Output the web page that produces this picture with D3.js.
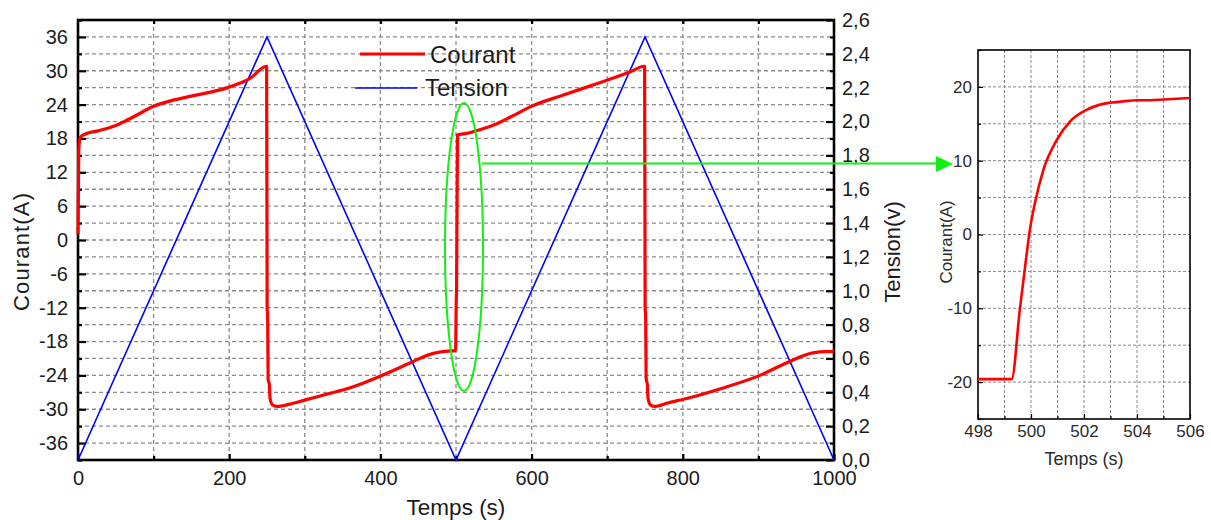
<!DOCTYPE html>
<html>
<head>
<meta charset="utf-8">
<script src="https://cdn.jsdelivr.net/npm/d3@7"></script>
<style>
  html, body { margin: 0; padding: 0; background: #fff; }
  svg { display: block; font-family: "Liberation Sans", Arial, sans-serif; }
</style>
</head>
<body>
<svg id="chart" width="1211" height="520"></svg>
<script>
// ---------- data ----------
const courantTime = [0, 1, 3, 10, 25, 50, 73, 100, 126, 150, 200, 227, 249.5,
  250.2, 250.8, 251.5, 253, 254, 257, 263, 280, 302, 330, 360, 404, 439, 470, 490, 499.5,
  500.2, 500.8, 502, 514, 530, 554, 575, 598, 642, 686, 730, 749.5,
  750.2, 750.8, 751.5, 753, 754, 757, 762, 780, 805, 849, 902, 937, 972, 990, 1000];
const courantValues = [1, 16, 18.2, 18.8, 19.3, 20.3, 21.8, 23.7, 24.8, 25.5, 27.1, 28.6, 30.8,
  -12.5, -12.8, -24.8, -25.5, -28, -29.2, -29.5, -29.1, -28.3, -27.3, -26.2, -23.9, -21.8, -20.1, -19.7, -19.6,
  -12, -8, 18.6, 18.9, 19.5, 20.6, 22, 23.6, 25.7, 27.7, 29.8, 30.8,
  -12.5, -12.8, -24.6, -25.5, -28, -29.2, -29.5, -28.9, -28.1, -26.4, -24, -21.8, -20, -19.8, -19.8];

const tensionTime = [0, 250, 500, 750, 1000];
const tensionValues = [0, 2.5, 0, 2.5, 0];

const courantTicks = [-36, -30, -24, -18, -12, -6, 0, 6, 12, 18, 24, 30, 36];
const courantMinorTicks = [-39, -33, -27, -21, -15, -9, -3, 3, 9, 15, 21, 27, 33, 39];
const tensionTicks = [0, 0.2, 0.4, 0.6, 0.8, 1.0, 1.2, 1.4, 1.6, 1.8, 2.0, 2.2, 2.4, 2.6];
const tensionMinorTicks = [0.1, 0.3, 0.5, 0.7, 0.9, 1.1, 1.3, 1.5, 1.7, 1.9, 2.1, 2.3, 2.5];
const tempsTicks = [0, 200, 400, 600, 800, 1000];
const tempsMinorTicks = [100, 300, 500, 700, 900];

const insetTime = [498, 499.27, 499.58, 499.81, 499.96, 500.15, 500.47, 500.97, 501.47, 502.1, 502.73, 503.4, 504, 504.5, 505, 506];
const insetCourant = [-19.6, -19.6, -10.1, -3.4, 0.7, 4.3, 8.8, 12.8, 15.3, 16.9, 17.7, 18.0, 18.2, 18.2, 18.3, 18.5];
const insetTimeTicks = [498, 500, 502, 504, 506];
const insetTimeMinor = [499, 501, 503, 505];
const insetCourantTicks = [-20, -10, 0, 10, 20];
const insetCourantMinor = [-25, -15, -5, 5, 15, 25];

const legendLabels = ["Courant", "Tension"];

// ---------- main chart ----------
const svg = d3.select("#chart");
const L = 78, R = 834, T = 20, B = 460;
const x = d3.scaleLinear().domain([0, 1000]).range([L, R]);
const yL = d3.scaleLinear().domain([-39, 39]).range([B, T]);
const yR = d3.scaleLinear().domain([0, 2.6]).range([B, T]);

const gridColor = "#8c8c8c";
const textColor = "#1c1c1c";
const fmtInt = d => String(d);

// grid
const grid = svg.append("g");
grid.selectAll("line.h").data(d3.range(1, 26).map(i => i / 10)).join("line")
  .attr("x1", L).attr("x2", R)
  .attr("y1", d => yR(d)).attr("y2", d => yR(d))
  .attr("stroke", gridColor).attr("stroke-width", 1.3).attr("stroke-dasharray", "4,3");
grid.selectAll("line.v").data(d3.range(100, 1000, 100)).join("line")
  .attr("x1", d => x(d)).attr("x2", d => x(d))
  .attr("y1", T).attr("y2", B)
  .attr("stroke", gridColor).attr("stroke-width", 1.3).attr("stroke-dasharray", "4,3");

function styleAxis(g, size) {
  g.select(".domain").remove();
  g.selectAll(".tick line").attr("stroke", "#000").attr("stroke-width", 2.2);
  g.selectAll("text").attr("fill", textColor).style("font-size", size + "px");
}

// left axis
svg.append("g").attr("transform", `translate(${L},0)`)
  .call(d3.axisLeft(yL).tickValues(courantTicks).tickSize(-8).tickPadding(10).tickFormat(fmtInt))
  .call(g => styleAxis(g, 20));
svg.append("g").attr("transform", `translate(${L},0)`)
  .call(d3.axisLeft(yL).tickValues(courantMinorTicks).tickSize(-4).tickFormat(""))
  .call(g => styleAxis(g, 20));

// right axis
const fmtR = d => d3.format(".1f")(d).replace(".", ",");
svg.append("g").attr("transform", `translate(${R},0)`)
  .call(d3.axisRight(yR).tickValues(tensionTicks).tickSize(-8).tickPadding(8).tickFormat(fmtR))
  .call(g => styleAxis(g, 20));
svg.append("g").attr("transform", `translate(${R},0)`)
  .call(d3.axisRight(yR).tickValues(tensionMinorTicks).tickSize(-4).tickFormat(""))
  .call(g => styleAxis(g, 20));

// bottom axis
svg.append("g").attr("transform", `translate(0,${B})`)
  .call(d3.axisBottom(x).tickValues(tempsTicks).tickSize(-6).tickPadding(11).tickFormat(fmtInt))
  .call(g => styleAxis(g, 20));
svg.append("g").attr("transform", `translate(0,${B})`)
  .call(d3.axisBottom(x).tickValues(tempsMinorTicks).tickSize(-4).tickFormat(""))
  .call(g => styleAxis(g, 20));

// top minor ticks
svg.append("g").attr("transform", `translate(0,${T})`)
  .call(d3.axisTop(x).tickValues(d3.range(100, 1000, 100)).tickSize(-4).tickFormat(""))
  .call(g => styleAxis(g, 20));

// frame
svg.append("rect").attr("x", L).attr("y", T).attr("width", R - L).attr("height", B - T)
  .attr("fill", "none").attr("stroke", "#000").attr("stroke-width", 2.6);

// lines
const tensionLine = d3.line().x((d, i) => x(tensionTime[i])).y(d => yR(d));
svg.append("path").datum(tensionValues).attr("d", tensionLine)
  .attr("fill", "none").attr("stroke", "#0000ff").attr("stroke-width", 1.6);

const courantLine = d3.line().x((d, i) => x(courantTime[i])).y(d => yL(d)).curve(d3.curveMonotoneX);
svg.append("path").datum(courantValues).attr("d", courantLine)
  .attr("fill", "none").attr("stroke", "#ff0000").attr("stroke-width", 3.2)
  .attr("stroke-linejoin", "round");

// axis titles
svg.append("text").attr("transform", "translate(29,252) rotate(-90)")
  .attr("text-anchor", "middle").attr("fill", textColor).style("font-size", "22px")
  .attr("textLength", 118).attr("lengthAdjust", "spacing").text("Courant(A)");
svg.append("text").attr("transform", "translate(900,252) rotate(-90)")
  .attr("text-anchor", "middle").attr("fill", textColor).style("font-size", "22px").text("Tension(v)");
svg.append("text").attr("x", 456).attr("y", 515)
  .attr("text-anchor", "middle").attr("fill", textColor).style("font-size", "22.5px").text("Temps (s)");

// legend
const leg = svg.append("g");
leg.append("line").attr("x1", 360).attr("x2", 425).attr("y1", 54).attr("y2", 54)
  .attr("stroke", "#ff0000").attr("stroke-width", 3.2);
leg.append("text").attr("x", 430).attr("y", 63).attr("fill", textColor).style("font-size", "24px").text(legendLabels[0]);
leg.append("line").attr("x1", 355).attr("x2", 417).attr("y1", 88).attr("y2", 88)
  .attr("stroke", "#0000ff").attr("stroke-width", 1.6);
leg.append("text").attr("x", 425).attr("y", 96).attr("fill", textColor).style("font-size", "24px").text(legendLabels[1]);

// green annotation
const green = "#11f011";
svg.append("ellipse").attr("cx", 464).attr("cy", 247).attr("rx", 19).attr("ry", 144)
  .attr("fill", "none").attr("stroke", green).attr("stroke-width", 2);
svg.append("line").attr("x1", 482).attr("x2", 940).attr("y1", 163.5).attr("y2", 163.5)
  .attr("stroke", green).attr("stroke-width", 2);
svg.append("path").attr("d", "M953,164 L936,156 L936,172 Z").attr("fill", green);

// ---------- inset ----------
const iL = 978, iR = 1190, iT = 50, iB = 419;
const xi = d3.scaleLinear().domain([498, 506]).range([iL, iR]);
const yi = d3.scaleLinear().domain([-25, 25]).range([iB, iT]);
const inset = svg.append("g");
const iGrid = "#8a8a8a";
inset.selectAll("line.ih").data(d3.range(-20, 25, 5)).join("line")
  .attr("x1", iL).attr("x2", iR).attr("y1", d => yi(d)).attr("y2", d => yi(d))
  .attr("stroke", iGrid).attr("stroke-width", 1).attr("stroke-dasharray", "3,2");
inset.selectAll("line.iv").data(d3.range(499, 506, 1)).join("line")
  .attr("x1", d => xi(d)).attr("x2", d => xi(d)).attr("y1", iT).attr("y2", iB)
  .attr("stroke", iGrid).attr("stroke-width", 1).attr("stroke-dasharray", "3,2");

function styleInset(g) {
  g.select(".domain").remove();
  g.selectAll(".tick line").attr("stroke", "#000").attr("stroke-width", 1.2);
  g.selectAll("text").attr("fill", "#2a2a2a").style("font-size", "17px");
}
inset.append("g").attr("transform", `translate(${iL},0)`)
  .call(d3.axisLeft(yi).tickValues(insetCourantTicks).tickSize(-5).tickPadding(6).tickFormat(fmtInt))
  .call(styleInset);
inset.append("g").attr("transform", `translate(${iL},0)`)
  .call(d3.axisLeft(yi).tickValues(insetCourantMinor).tickSize(-3).tickFormat(""))
  .call(styleInset);
inset.append("g").attr("transform", `translate(0,${iB})`)
  .call(d3.axisBottom(xi).tickValues(insetTimeTicks).tickSize(-5).tickPadding(6).tickFormat(fmtInt))
  .call(styleInset);
inset.append("g").attr("transform", `translate(0,${iB})`)
  .call(d3.axisBottom(xi).tickValues(insetTimeMinor).tickSize(-3).tickFormat(""))
  .call(styleInset);

inset.append("rect").attr("x", iL).attr("y", iT).attr("width", iR - iL).attr("height", iB - iT)
  .attr("fill", "none").attr("stroke", "#000").attr("stroke-width", 1.6);

const insetLine = d3.line().x((d, i) => xi(insetTime[i])).y(d => yi(d)).curve(d3.curveMonotoneX);
inset.append("path").datum(insetCourant).attr("d", insetLine)
  .attr("fill", "none").attr("stroke", "#ff0000").attr("stroke-width", 2.6);

inset.append("text").attr("transform", "translate(952,242) rotate(-90)")
  .attr("text-anchor", "middle").attr("fill", "#2a2a2a").style("font-size", "17px").text("Courant(A)");
inset.append("text").attr("x", 1084).attr("y", 465)
  .attr("text-anchor", "middle").attr("fill", "#2a2a2a").style("font-size", "18px").text("Temps (s)");
</script>
</body>
</html>
